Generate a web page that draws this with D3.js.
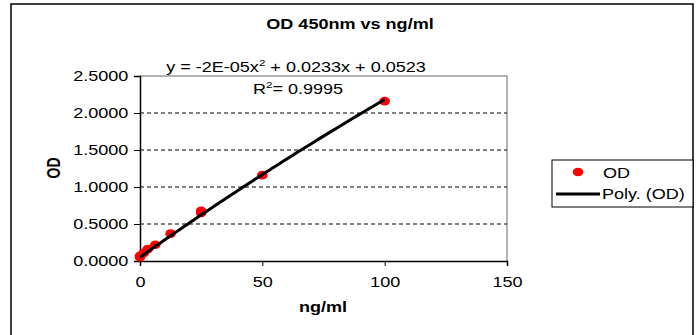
<!DOCTYPE html>
<html>
<head>
<meta charset="utf-8">
<script src="https://cdn.jsdelivr.net/npm/d3@7"></script>
<style>
  body { margin: 0; background: #fff; }
  text { font-family: "Liberation Sans", Arial, sans-serif; fill: #000; }
</style>
</head>
<body>
<svg id="chart" width="697" height="335"></svg>
<script>
// standard concentrations (ng/ml) and OD readings
let conc = [0, 0, 1.56, 3.125, 6.25, 12.5, 25, 25, 50, 100];
let od = [0.05, 0.07, 0.11, 0.16, 0.22, 0.37, 0.65, 0.68, 1.16, 2.16];
let yTicks = [0, 0.5, 1, 1.5, 2, 2.5];
let xTicks = [0, 50, 100, 150];
let fit = [-2e-5, 0.0233, 0.0523];

let S = 1.29; // text in the original is stretched sideways

let svg = d3.select('#chart');
let margin = {top: 76, left: 140, right: 190, bottom: 74};
let width = 697 - margin.left - margin.right;
let height = 335 - margin.top - margin.bottom;

// text placed at x,y and stretched horizontally
function stext(parent, px, py, anchor) {
  return parent.append('g')
    .attr('transform', 'translate(' + px + ',' + py + ') scale(' + S + ',1)')
    .append('text')
    .attr('text-anchor', anchor || 'middle')
    .attr('font-size', 14);
}

// outer frame
svg.append('rect')
  .attr('x', 11).attr('y', 4)
  .attr('width', 682).attr('height', 340)
  .attr('fill', 'none').attr('stroke', '#000').attr('stroke-width', 1.5);

stext(svg, 350, 29).attr('font-weight', 'bold').text('OD 450nm vs ng/ml');

let g = svg.append('g')
  .attr('transform', 'translate(' + margin.left + ',' + margin.top + ')');

let x = d3.scaleLinear().domain([0, 150]).range([0, width]);
let y = d3.scaleLinear().domain([0, 2.5]).range([height, 0]);

// plot frame (grey top/right)
g.append('path')
  .attr('d', 'M0,0H' + width + 'V' + height)
  .attr('fill', 'none').attr('stroke', '#999').attr('stroke-width', 1.5);

// dashed grid
g.selectAll('.grid').data(yTicks.filter(d => d > 0 && d < 2.5)).enter()
  .append('line')
  .attr('x1', 0).attr('x2', width)
  .attr('y1', d => y(d)).attr('y2', d => y(d))
  .attr('stroke', '#000').attr('stroke-dasharray', '4,3');

let yAxis = g.append('g')
  .call(d3.axisLeft(y).tickValues(yTicks).tickFormat(d3.format('.4f')).tickSize(6).tickPadding(3));
let xAxis = g.append('g')
  .attr('transform', 'translate(0,' + height + ')')
  .call(d3.axisBottom(x).tickValues(xTicks).tickSize(5).tickPadding(11));
[yAxis, xAxis].forEach(a => {
  a.select('.domain').attr('stroke-width', 1.5);
  a.selectAll('text')
    .attr('font-size', 14)
    .attr('font-family', '"Liberation Sans", Arial, sans-serif')
    .attr('transform', 'scale(' + S + ',1)');
});

// data points
g.selectAll('.pt').data(conc).enter()
  .append('ellipse')
  .attr('cx', d => x(d))
  .attr('cy', (d, i) => y(od[i]))
  .attr('rx', 5.3).attr('ry', 4.3)
  .attr('fill', '#ff0000');

// polynomial trendline
let line = d3.line()
  .x(d => x(d))
  .y(d => y(fit[0] * d * d + fit[1] * d + fit[2]));
g.append('path')
  .datum(d3.range(0, 100.5, 1))
  .attr('d', line)
  .attr('fill', 'none').attr('stroke', '#000').attr('stroke-width', 3);

// equation and R^2
let eq = stext(svg, 296, 72);
eq.append('tspan').text('y = -2E-05x');
eq.append('tspan').attr('font-size', 9).attr('dy', -6).text('2');
eq.append('tspan').attr('dy', 6).text(' + 0.0233x + 0.0523');

let r2 = stext(svg, 298, 94);
r2.append('tspan').text('R');
r2.append('tspan').attr('font-size', 9).attr('dy', -6).text('2');
r2.append('tspan').attr('dy', 6).text('= 0.9995');

// axis titles
stext(svg, 323, 312).attr('font-weight', 'bold').text('ng/ml');
svg.append('g')
  .attr('transform', 'translate(60,168) rotate(-90) scale(1,' + S + ')')
  .append('text')
  .attr('text-anchor', 'middle')
  .attr('font-weight', 'bold').attr('font-size', 14)
  .text('OD');

// legend
let lg = svg.append('g');
lg.append('rect')
  .attr('x', 552).attr('y', 160).attr('width', 141).attr('height', 47)
  .attr('fill', '#fff').attr('stroke', '#000');
lg.append('ellipse').attr('cx', 578).attr('cy', 172).attr('rx', 5.3).attr('ry', 4.3).attr('fill', '#ff0000');
stext(lg, 603, 178, 'start').text('OD');
lg.append('line').attr('x1', 556).attr('x2', 600).attr('y1', 194).attr('y2', 194)
  .attr('stroke', '#000').attr('stroke-width', 3);
stext(lg, 602, 199, 'start').text('Poly. (OD)');
</script>
</body>
</html>
